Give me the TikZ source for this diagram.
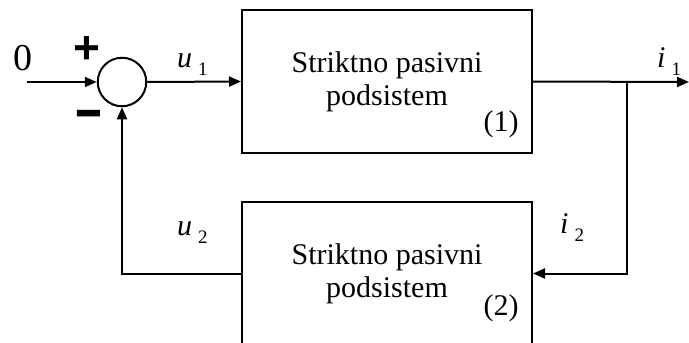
\documentclass[tikz,border=0pt]{standalone}
\usepackage{fontspec}
\setmainfont{Liberation Serif}
\setsansfont{Liberation Sans}
\usetikzlibrary{arrows.meta,positioning}
\tikzset{
  blok/.style={draw,line width=2pt,minimum width=290pt,minimum height=143pt,
    align=center,font=\fontsize{30}{33}\selectfont},
  zbir/.style={draw,circle,line width=2pt,minimum size=48.5pt,inner sep=0pt},
  veza/.style={line width=2pt,-{Triangle[length=12pt,width=10pt]}},
  oznaka/.style={font=\fontsize{30}{30}\selectfont,inner sep=0pt},
  znak/.style={font=\sffamily\bfseries\fontsize{46}{46}\selectfont,inner sep=0pt},
}
\newcommand{\signal}[2]{\textit{#1}\hspace{6pt}\raisebox{-8pt}{\fontsize{19}{19}\selectfont #2}}
\begin{document}
\begin{tikzpicture}[x=1pt,y=-1pt]
\useasboundingbox (0,0) rectangle (689,343);
% blokovi
\node[zbir] (sum) at (122,82) {};
\node[blok] (sys1) at (387,81.5) {Striktno pasivni\\podsistem};
\node[blok] (sys2) at (387,273.5) {Striktno pasivni\\podsistem};
\node[oznaka] (br1) at ([xshift=-32pt,yshift=30pt]sys1.south east) {(1)};
\node[oznaka] (br2) at ([xshift=-32pt,yshift=38pt]sys2.south east) {(2)};
% veze
\coordinate (ulaz) at (27,82);
\coordinate (izlaz) at (689,82);
\coordinate (grana) at (627,82);
\draw[veza] (ulaz) -- (sum.west);
\draw[veza] (sum.east) -- (sys1.west);
\draw[veza] (sys1.east) -- (izlaz);
\draw[veza] (grana) |- (sys2.east);
\draw[veza] (sys2.west) -| (sum.south);
% oznake
\node[oznaka,font=\fontsize{38}{38}\selectfont] (nula) at (23,58.5) {0};
\node[znak] (plus) at (86.5,50) {+};
\node[znak] (minus) at (88.5,121.5) {\scalebox{1}[1.3]{−}};
\node[oznaka,anchor=base west] (u1) at (177,67) {\signal{u}{1}};
\node[oznaka,anchor=base west] (u2) at (177,235) {\signal{u}{2}};
\node[oznaka,anchor=base west] (i1) at (657,67) {\signal{i}{1}};
\node[oznaka,anchor=base west] (i2) at (560,233) {\signal{i}{2}};
\end{tikzpicture}
\end{document}
